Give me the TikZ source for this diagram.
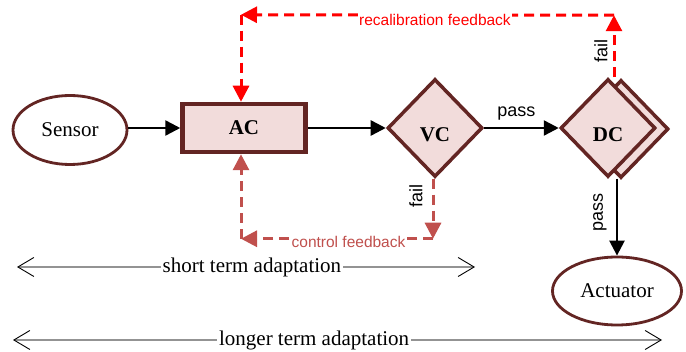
\documentclass[tikz,border=0pt]{standalone}
\usepackage{fontspec}
\setmainfont{Liberation Serif}
\setsansfont{Liberation Sans}
\usepackage{tikz}
\usetikzlibrary{calc,shapes.geometric,arrows.meta,shadows}
\definecolor{boxline}{HTML}{632523}
\definecolor{boxfill}{HTML}{F2DCDB}
\definecolor{ctlred}{HTML}{C0504D}
\definecolor{recred}{HTML}{FF0000}

\begin{document}
\begin{tikzpicture}[
x=1pt, y=-1pt,
font=\fontsize{21}{25}\selectfont,
E1/.style={ellipse, draw=boxline, fill=white, line width=2.8pt, inner sep=0pt},
B1/.style={rectangle, draw=boxline, fill=boxfill, line width=4.5pt,
minimum width=123pt, minimum height=48pt, font=\fontsize{21}{25}\selectfont\bfseries},
D1/.style={diamond, draw=boxline, fill=boxfill, line width=3.5pt, inner sep=0pt,
minimum width=95pt, minimum height=98pt, text height=27pt,
font=\fontsize{21}{25}\selectfont\bfseries},
flow/.style={-{Triangle[length=15pt,width=15pt]}, line width=2.5pt},
fb/.style={-{Triangle[length=16pt,width=16pt]}, line width=3pt, dash pattern=on 10pt off 6pt},
lbl/.style={font=\sffamily\fontsize{18}{21}\selectfont, inner sep=2pt},
fblbl/.style={font=\sffamily\fontsize{15.5}{18}\selectfont, fill=white, inner sep=1.5pt},
span/.style={{Straight Barb[length=16pt,width=19pt,line width=0.9pt,color=black]}-{Straight Barb[length=16pt,width=19pt,line width=0.9pt,color=black]},
draw=gray!85, line width=1.4pt},
]
	\useasboundingbox (0,0) rectangle (686,352);

	\node[E1, minimum width=114pt, minimum height=69pt] (Sensor) at (70,130) {Sensor};
	\node[B1] (AC) at ($ (Sensor) + (174,-2) $) {AC};
	\node[D1] (VC) at ($ (AC) + (191,0) $) {VC};
	\node[D1, copy shadow={shadow xshift=13pt, shadow yshift=-1pt}] (DC)
	at ($ (VC) + (173,0) $) {DC};
	\node[E1, minimum width=129pt, minimum height=68pt] (Actuator)
	at ($ (DC) + (9,163) $) {Actuator};

	% main flow
	\draw[flow] (Sensor.east |- AC) -- (AC);
	\draw[flow] (AC) -- (VC);
	\draw[flow] (VC) -- node[lbl, above=5pt, pos=0.43] (PassH) {pass} (DC);
	\draw[flow] (Actuator |- DC.south) -- (Actuator.north);
	\node[lbl, rotate=90] (PassV) at ($ (Actuator.north) + (-17,-43) $) {pass};

	% recalibration feedback
	\coordinate (RecR) at ($ (DC.north) + (6,-62) $);
	\coordinate (RecL) at ($ (AC.north) + (-3,-87) $);
	\draw[fb, recred] (RecR |- DC.north) -- (RecR);
	\draw[fb, recred] (RecR) -- node[fblbl, pos=0.48, yshift=-5pt] (RecLbl) {recalibration feedback} (RecL);
	\draw[fb, recred] (RecL) -- (RecL |- AC.north);
	\node[lbl, rotate=90] (FailDC) at ($ (RecR) + (-13,36) $) {fail};

	% control feedback
	\coordinate (CtlR) at ($ (VC.south) + (-2,60) $);
	\coordinate (CtlL) at (RecL |- CtlR);
	\draw[fb, ctlred] (VC.south -| CtlR) -- (CtlR);
	\draw[fb, ctlred] (CtlR) -- node[fblbl, pos=0.44, yshift=-3pt] (CtlLbl) {control feedback} (CtlL);
	\draw[fb, ctlred] (CtlL) -- (CtlL |- AC.south);
	\node[lbl, rotate=90] (FailVC) at ($ (VC.south) + (-19,17) $) {fail};

	% adaptation spans
	\coordinate (ShortL) at (17,267);
	\coordinate (ShortR) at (475,267);
	\draw[span] (ShortL) -- node[fill=white, inner sep=2pt, pos=0.513] (ShortLbl) {short term adaptation} (ShortR);
	\coordinate (LongL) at (13,340);
	\coordinate (LongR) at (662,340);
	\draw[span] (LongL) -- node[fill=white, inner sep=2pt, pos=0.464] (LongLbl) {longer term adaptation} (LongR);
\end{tikzpicture}
\end{document}
